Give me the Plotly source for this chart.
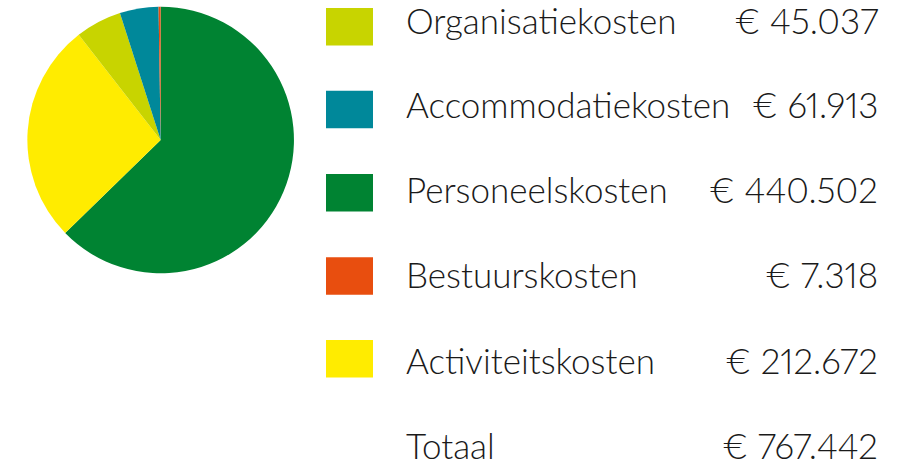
import plotly.graph_objects as go

# ---- data ----
categories = ["Organisatiekosten", "Accommodatiekosten", "Personeelskosten",
              "Bestuurskosten", "Activiteitskosten"]
amounts = [45037, 61913, 440502, 7318, 212672]
colors = ["#C8D400", "#00889A", "#008332", "#E84E0F", "#FFEC00"]
total_label = "Totaal"

# slice shares (percent), clockwise from 12 o'clock
pie_categories = ["Personeelskosten", "Activiteitskosten", "Organisatiekosten",
                  "Accommodatiekosten", "Bestuurskosten"]
pie_shares = [62.8, 26.8, 5.6, 4.7, 0.25]


def euro(v):
    return "€ " + f"{v:,}".replace(",", ".")


W, H = 911, 461
FONT = dict(family="Lato", size=35, color="#1a1a1a", weight=300)

# layout positions (pixels from top)
square_top = [8, 90.7, 174, 257.3, 340]
square_h = 37.5
text_mid = [19.8, 104, 189.3, 274.3, 360.3, 445]

color_map = dict(zip(categories, colors))

fig = go.Figure()
fig.add_trace(go.Pie(
    labels=pie_categories,
    values=pie_shares,
    marker=dict(colors=[color_map[c] for c in pie_categories], line=dict(width=0)),
    sort=False,
    direction="clockwise",
    rotation=0,
    textinfo="none",
    hoverinfo="label",
    showlegend=False,
    domain=dict(x=[27.3 / W, 294.0 / W], y=[1 - 273.3 / H, 1 - 6.7 / H]),
))

shapes = []
annotations = []
labels = categories + [total_label]
vals = amounts + [sum(amounts)]
for i in range(6):
    if i < 5:
        shapes.append(dict(type="rect", xref="paper", yref="paper",
                           x0=326 / W, x1=373 / W,
                           y0=1 - (square_top[i] + square_h) / H, y1=1 - square_top[i] / H,
                           fillcolor=colors[i], line=dict(width=0)))
    ym = 1 - text_mid[i] / H
    annotations.append(dict(x=404 / W, y=ym, xref="paper", yref="paper",
                            text=labels[i], showarrow=False, xanchor="left", yanchor="middle",
                            align="left", font=FONT))
    annotations.append(dict(x=880 / W, y=ym, xref="paper", yref="paper",
                            text=euro(vals[i]), showarrow=False, xanchor="right", yanchor="middle",
                            align="right", font=FONT))

fig.update_layout(
    width=W, height=H,
    margin=dict(l=0, r=0, t=0, b=0),
    paper_bgcolor="white", plot_bgcolor="white",
    shapes=shapes, annotations=annotations,
    showlegend=False,
)

post = (
    "document.body.style.margin='0';document.body.style.padding='0';"
    "var s=document.createElement('style');"
    "s.textContent='text{font-variant-numeric:proportional-nums;font-feature-settings:\"pnum\" 1;}';"
    "document.head.appendChild(s);"
)

fig.write_html("out.html", config={"displayModeBar": False}, post_script=post)
